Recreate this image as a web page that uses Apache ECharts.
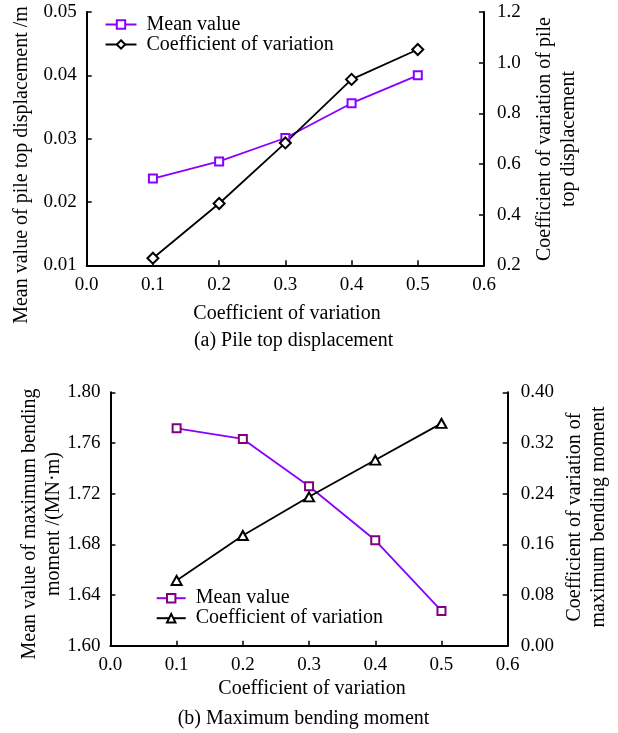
<!DOCTYPE html>
<html>
<head>
<meta charset="utf-8">
<script src="https://cdn.jsdelivr.net/npm/echarts@6/dist/echarts.min.js"></script>
<style>
  html, body { margin: 0; padding: 0; background: #ffffff; }
  #chart { width: 618px; height: 733px; }
</style>
</head>
<body>
<div id="chart"></div>
<script>
// Coefficient of variation of the soil parameter (x values shared by both panels)
const cvLevels = [0.1, 0.2, 0.3, 0.4, 0.5];

// (a) Pile top displacement
const dispMean = [0.0237, 0.0264, 0.0301, 0.0356, 0.0400];   // m
const dispCov  = [0.228, 0.444, 0.683, 0.934, 1.052];

// (b) Maximum bending moment
const momentMean = [1.7716, 1.7632, 1.7258, 1.6832, 1.6274]; // MN·m
const momentCov  = [0.103, 0.174, 0.235, 0.293, 0.351];

const FONT = '"Liberation Serif", "Times New Roman", serif';
const VIOLET = '#8a00ff';
const PLUM = '#800080';

const pairs = arr => cvLevels.map((x, i) => [x, arr[i]]);

const axisLineStyle = { show: true, lineStyle: { color: '#000', width: 2 } };
const tickStyle = { show: true, inside: true, length: 5, lineStyle: { color: '#000', width: 1.5 } };

function xAxisFor(grid) {
  return {
    type: 'value', gridIndex: grid, min: 0, max: 0.6, interval: 0.1,
    axisLine: axisLineStyle, axisTick: tickStyle, splitLine: { show: false },
    axisLabel: { margin: 10, fontFamily: FONT, fontSize: 19, color: '#000',
                 formatter: v => v.toFixed(1) }
  };
}
function yAxisFor(grid, pos, min, max, step, digits) {
  return {
    type: 'value', gridIndex: grid, position: pos, min: min, max: max, interval: step,
    axisLine: axisLineStyle, axisTick: tickStyle, splitLine: { show: false },
    axisLabel: { margin: pos === 'left' ? 10 : 13, fontFamily: FONT, fontSize: 19, color: '#000',
                 formatter: v => v.toFixed(digits) }
  };
}

function lineSeries(name, x, y, data, color, symbol, size, markerColor) {
  return {
    type: 'line', name: name, xAxisIndex: x, yAxisIndex: y, data: data,
    symbol: symbol, symbolSize: size, showSymbol: true,
    lineStyle: { color: color, width: 1.8 },
    itemStyle: { color: markerColor || color, borderColor: markerColor || color, borderWidth: 2 },
    animation: false
  };
}

const legendText = { fontFamily: FONT, fontSize: 20, color: '#000', lineHeight: 19, padding: [0, 0, 0, 5] };

function rotatedText(x, y, text) {
  return {
    type: 'text', x: x, y: y, rotation: Math.PI / 2,
    style: { text: text, x: 0, y: 0, align: 'center', verticalAlign: 'middle',
             fontFamily: FONT, fontSize: 20, lineHeight: 24, fill: '#000' }
  };
}
function flatText(x, y, text) {
  return {
    type: 'text', x: x, y: y,
    style: { text: text, x: 0, y: 0, align: 'center', verticalAlign: 'middle',
             fontFamily: FONT, fontSize: 20, fill: '#000' }
  };
}

const option = {
  backgroundColor: '#ffffff',
  animation: false,
  grid: [
    { left: 86.7, top: 12, width: 397.3, height: 253.3 },
    { left: 110.4, top: 392.3, width: 397.3, height: 253.4 }
  ],
  xAxis: [xAxisFor(0), xAxisFor(1)],
  yAxis: [
    yAxisFor(0, 'left', 0.01, 0.05, 0.01, 2),
    yAxisFor(0, 'right', 0.2, 1.2, 0.2, 1),
    yAxisFor(1, 'left', 1.6, 1.8, 0.04, 2),
    yAxisFor(1, 'right', 0, 0.4, 0.08, 2)
  ],
  legend: [
    {
      data: ['Mean value', 'Coefficient of variation'],
      orient: 'vertical', left: 104.5, top: 14.5, padding: 0,
      itemWidth: 31, itemHeight: 10.5, itemGap: 0,
      textStyle: legendText, selectedMode: false
    },
    {
      data: ['b:Mean value', 'b:Coefficient of variation'],
      formatter: n => n.replace('b:', ''),
      orient: 'vertical', left: 155.7, top: 588.2, padding: 0,
      itemWidth: 29, itemHeight: 10.5, itemGap: 0,
      textStyle: legendText, selectedMode: false
    }
  ],
  series: [
    lineSeries('Mean value', 0, 0, pairs(dispMean), VIOLET, 'emptyRect', 8),
    lineSeries('Coefficient of variation', 0, 1, pairs(dispCov), '#000', 'emptyDiamond', 11),
    lineSeries('b:Mean value', 1, 2, pairs(momentMean), VIOLET, 'emptyRect', 8, PLUM),
    lineSeries('b:Coefficient of variation', 1, 3, pairs(momentCov), '#000', 'emptyTriangle', [10, 9])
  ],
  graphic: [
    flatText(287, 314, 'Coefficient of variation'),
    flatText(293.6, 341, '(a) Pile top displacement'),
    rotatedText(21.7, 165, 'Mean value of pile top displacement /m'),
    rotatedText(557, 139, 'Coefficient of variation of pile\ntop displacement'),
    flatText(312, 689, 'Coefficient of variation'),
    flatText(303.5, 719, '(b) Maximum bending moment'),
    rotatedText(42, 524, 'Mean value of maximum bending\nmoment /(MN·m)'),
    rotatedText(587, 517, 'Coefficient of variation of\nmaximum bending moment')
  ]
};

const chart = echarts.init(document.getElementById('chart'), null, { renderer: 'canvas' });
chart.setOption(option);
</script>
</body>
</html>
